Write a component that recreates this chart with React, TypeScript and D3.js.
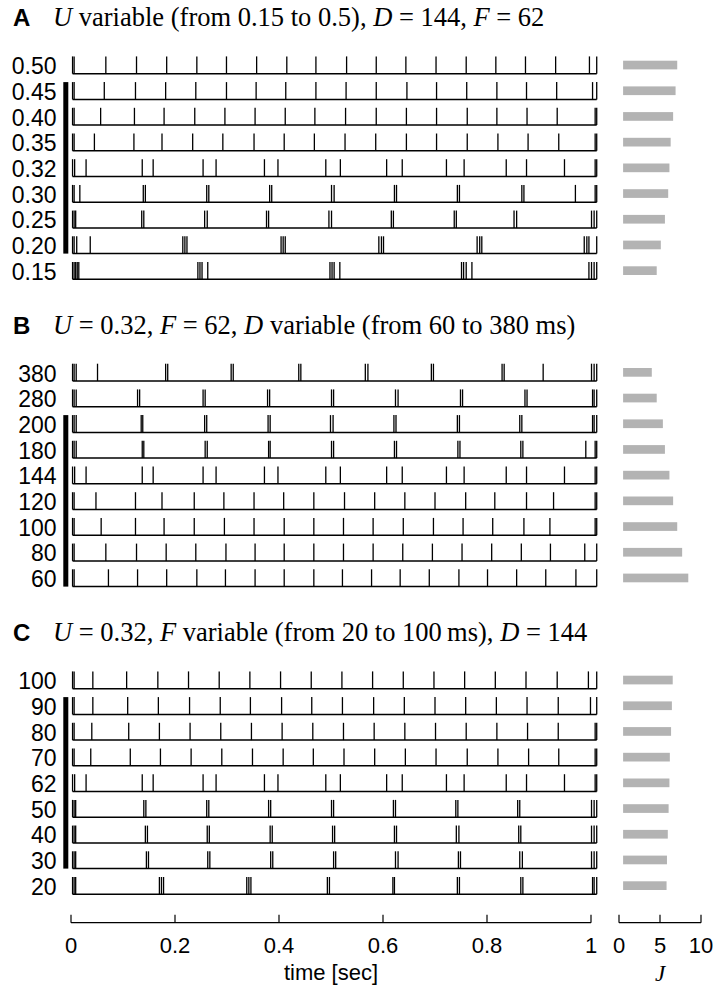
import React from 'react';
import * as d3 from 'd3';

// ---------- DATA ----------
const panelALabels = ['0.50', '0.45', '0.40', '0.35', '0.32', '0.30', '0.25', '0.20', '0.15'];
const panelBLabels = ['380', '280', '200', '180', '144', '120', '100', '80', '60'];
const panelCLabels = ['100', '90', '80', '70', '62', '50', '40', '30', '20'];

// spike times (sec)
const spikesRef = [0.003, 0.007, 0.029, 0.137, 0.158, 0.254, 0.279, 0.372, 0.398, 0.490, 0.518, 0.607, 0.637, 0.722, 0.756, 0.837, 0.876, 0.949, 1.008, 1.011];

const panelASpikes: number[][] = [
  [0.003, 0.006, 0.067, 0.126, 0.184, 0.242, 0.299, 0.357, 0.415, 0.471, 0.530, 0.587, 0.644, 0.702, 0.760, 0.817, 0.874, 0.932, 0.997, 1.011],
  [0.003, 0.006, 0.064, 0.124, 0.182, 0.240, 0.299, 0.356, 0.413, 0.471, 0.529, 0.587, 0.646, 0.703, 0.761, 0.819, 0.876, 0.934, 1.003, 1.011],
  [0.003, 0.006, 0.057, 0.122, 0.179, 0.238, 0.296, 0.354, 0.412, 0.469, 0.528, 0.587, 0.645, 0.703, 0.762, 0.819, 0.877, 0.935, 1.008, 1.011],
  [0.003, 0.006, 0.045, 0.121, 0.175, 0.234, 0.292, 0.352, 0.410, 0.468, 0.527, 0.586, 0.645, 0.703, 0.762, 0.821, 0.879, 0.938, 1.008, 1.011],
  spikesRef,
  [0.003, 0.006, 0.017, 0.139, 0.143, 0.261, 0.265, 0.382, 0.386, 0.501, 0.506, 0.622, 0.626, 0.743, 0.747, 0.867, 0.871, 0.970, 1.008, 1.011],
  [0.003, 0.006, 0.009, 0.136, 0.140, 0.257, 0.262, 0.376, 0.380, 0.496, 0.501, 0.616, 0.620, 0.737, 0.741, 0.852, 0.857, 1.001, 1.006, 1.011],
  [0.003, 0.006, 0.011, 0.037, 0.215, 0.219, 0.223, 0.404, 0.408, 0.412, 0.592, 0.597, 0.601, 0.781, 0.786, 0.790, 0.987, 0.992, 0.996, 1.011],
  [0.003, 0.006, 0.009, 0.012, 0.015, 0.244, 0.248, 0.252, 0.263, 0.498, 0.502, 0.506, 0.517, 0.751, 0.755, 0.760, 0.771, 0.996, 1.001, 1.006, 1.011],
];

const panelBSpikes: number[][] = [
  [0.003, 0.006, 0.010, 0.051, 0.182, 0.186, 0.308, 0.312, 0.438, 0.442, 0.566, 0.571, 0.693, 0.697, 0.829, 0.833, 0.908, 1.001, 1.006, 1.011],
  [0.003, 0.006, 0.010, 0.128, 0.132, 0.254, 0.258, 0.378, 0.382, 0.501, 0.505, 0.624, 0.629, 0.749, 0.753, 0.873, 0.877, 1.003, 1.006, 1.011],
  [0.003, 0.006, 0.010, 0.135, 0.138, 0.257, 0.261, 0.379, 0.383, 0.499, 0.504, 0.621, 0.625, 0.743, 0.747, 0.863, 0.867, 1.003, 1.006, 1.011],
  [0.003, 0.006, 0.010, 0.137, 0.140, 0.258, 0.262, 0.380, 0.383, 0.501, 0.505, 0.622, 0.626, 0.744, 0.748, 0.865, 0.869, 0.990, 1.008, 1.011],
  spikesRef,
  [0.003, 0.006, 0.048, 0.124, 0.175, 0.237, 0.294, 0.352, 0.409, 0.467, 0.526, 0.584, 0.642, 0.700, 0.759, 0.815, 0.876, 0.928, 1.008, 1.011],
  [0.003, 0.006, 0.058, 0.124, 0.179, 0.237, 0.295, 0.352, 0.410, 0.467, 0.524, 0.581, 0.639, 0.697, 0.754, 0.811, 0.871, 0.921, 1.008, 1.011],
  [0.003, 0.006, 0.067, 0.126, 0.183, 0.240, 0.298, 0.354, 0.410, 0.467, 0.524, 0.581, 0.638, 0.695, 0.752, 0.809, 0.866, 0.922, 0.988, 1.011],
  [0.003, 0.006, 0.072, 0.128, 0.184, 0.242, 0.297, 0.354, 0.410, 0.467, 0.522, 0.578, 0.633, 0.689, 0.746, 0.801, 0.857, 0.913, 0.971, 1.011],
];

const panelCSpikes: number[][] = [
  [0.003, 0.006, 0.042, 0.107, 0.167, 0.226, 0.285, 0.344, 0.403, 0.462, 0.521, 0.580, 0.639, 0.698, 0.757, 0.816, 0.875, 0.935, 0.995, 1.011],
  [0.003, 0.006, 0.042, 0.109, 0.168, 0.228, 0.287, 0.345, 0.405, 0.463, 0.522, 0.582, 0.641, 0.700, 0.759, 0.818, 0.877, 0.937, 0.999, 1.011],
  [0.003, 0.006, 0.040, 0.111, 0.170, 0.229, 0.288, 0.347, 0.406, 0.465, 0.524, 0.583, 0.642, 0.701, 0.760, 0.819, 0.878, 0.937, 1.008, 1.011],
  [0.003, 0.006, 0.038, 0.114, 0.172, 0.231, 0.290, 0.349, 0.408, 0.466, 0.525, 0.584, 0.643, 0.702, 0.762, 0.821, 0.880, 0.938, 1.008, 1.011],
  spikesRef,
  [0.003, 0.006, 0.009, 0.140, 0.144, 0.261, 0.265, 0.380, 0.384, 0.501, 0.505, 0.620, 0.624, 0.740, 0.744, 0.859, 0.863, 1.001, 1.006, 1.011],
  [0.003, 0.006, 0.009, 0.143, 0.147, 0.262, 0.266, 0.383, 0.387, 0.503, 0.507, 0.622, 0.626, 0.741, 0.746, 0.861, 0.865, 1.001, 1.006, 1.011],
  [0.003, 0.006, 0.009, 0.145, 0.149, 0.263, 0.267, 0.384, 0.388, 0.505, 0.509, 0.624, 0.629, 0.745, 0.749, 0.863, 0.868, 1.001, 1.006, 1.011],
  [0.003, 0.006, 0.009, 0.170, 0.174, 0.178, 0.338, 0.342, 0.346, 0.493, 0.497, 0.619, 0.622, 0.743, 0.747, 0.865, 0.869, 1.003, 1.006, 1.011],
];

const panelAJ = [7.1, 6.9, 6.6, 6.3, 6.15, 6.0, 5.6, 5.1, 4.6];
const panelBJ = [4.0, 4.6, 5.35, 5.6, 6.15, 6.6, 7.1, 7.7, 8.45];
const panelCJ = [6.55, 6.45, 6.35, 6.2, 6.15, 6.05, 5.95, 5.85, 5.8];

// index range of rows marked with the thick black bar
const panelAMarked = [1, 7];
const panelBMarked = [2, 8];
const panelCMarked = [1, 7];

type Seg = { t: string; i?: boolean };
const titleA: Seg[] = [{ t: 'U', i: true }, { t: ' variable (from 0.15 to 0.5), ' }, { t: 'D', i: true }, { t: ' = 144, ' }, { t: 'F', i: true }, { t: ' = 62' }];
const titleB: Seg[] = [{ t: 'U', i: true }, { t: ' = 0.32, ' }, { t: 'F', i: true }, { t: ' = 62, ' }, { t: 'D', i: true }, { t: ' variable (from 60 to 380 ms)' }];
const titleC: Seg[] = [{ t: 'U', i: true }, { t: ' = 0.32, ' }, { t: 'F', i: true }, { t: ' variable (from 20 to 100\u2009ms), ' }, { t: 'D', i: true }, { t: ' = 144' }];

const timeTicks = [0, 0.2, 0.4, 0.6, 0.8, 1];
const jTicks = [0, 5, 10];
const J_BAR_START = 0.5;

// ---------- LAYOUT ----------
const W = 715;
const H = 987;
const xT = d3.scaleLinear().domain([0, 1]).range([71, 591]);
const xJ = d3.scaleLinear().domain([0, 10]).range([619, 701]);
const ROW_STEP = 25.7;
const SPIKE_H = 17.3;
const BAR_H = 8.7;
const panelTops = [73.7, 381, 688.7];
const SANS = '"Liberation Sans", Arial, Helvetica, sans-serif';
const SERIF = '"Liberation Serif", "Times New Roman", Times, serif';
const LABEL_FS = 23;
const TICK_FS = 22;
const TITLE_FS = 26.5;
const fmt = d3.format('~g');

function Panel({ letter, title, labels, spikes, J, marked, y0 }: {
  letter: string; title: Seg[]; labels: string[]; spikes: number[][]; J: number[]; marked: number[]; y0: number;
}) {
  const yRow = d3.scaleLinear().domain([0, 1]).range([y0, y0 + ROW_STEP]);
  return (
    <g>
      <text x={13} y={y0 - 47.5} fontFamily={SANS} fontWeight="bold" fontSize={24}>{letter}</text>
      <text x={53} y={y0 - 47.5} fontFamily={SERIF} fontSize={TITLE_FS}>
        {title.map((s, k) => (
          <tspan key={k} fontStyle={s.i ? 'italic' : 'normal'}>{s.t}</tspan>
        ))}
      </text>
      <rect x={63.3} y={yRow(marked[0]) - SPIKE_H} width={5} height={yRow(marked[1]) - yRow(marked[0]) + SPIKE_H} fill="#000" />
      {labels.map((lab, r) => {
        const yb = yRow(r);
        const sp = spikes[r];
        return (
          <g key={r}>
            <text x={56.5} y={yb + 0.5} textAnchor="end" fontFamily={SANS} fontSize={LABEL_FS}>{lab}</text>
            <line x1={xT(sp[0])} x2={xT(sp[sp.length - 1])} y1={yb} y2={yb} stroke="#000" strokeWidth={1.5} />
            {sp.map((t, k) => (
              <line key={k} x1={xT(t)} x2={xT(t)} y1={yb} y2={yb - SPIKE_H} stroke="#000" strokeWidth={1.3} />
            ))}
            <rect x={xJ(J_BAR_START)} y={yb - SPIKE_H / 2 - BAR_H / 2} width={xJ(J[r]) - xJ(J_BAR_START)} height={BAR_H} fill="#b3b3b3" />
          </g>
        );
      })}
    </g>
  );
}

export default function App() {
  const axisY = 922.7;
  return (
    <svg width={W} height={H} style={{ display: 'block', position: 'absolute', left: 0, top: 0, background: '#fff' }}>
      <rect x={0} y={0} width={W} height={H} fill="#fff" />
      <Panel letter="A" title={titleA} labels={panelALabels} spikes={panelASpikes} J={panelAJ} marked={panelAMarked} y0={panelTops[0]} />
      <Panel letter="B" title={titleB} labels={panelBLabels} spikes={panelBSpikes} J={panelBJ} marked={panelBMarked} y0={panelTops[1]} />
      <Panel letter="C" title={titleC} labels={panelCLabels} spikes={panelCSpikes} J={panelCJ} marked={panelCMarked} y0={panelTops[2]} />
      {/* time axis */}
      <line x1={xT(0)} x2={xT(1)} y1={axisY} y2={axisY} stroke="#000" strokeWidth={1.2} />
      {timeTicks.map((t) => (
        <g key={t}>
          <line x1={xT(t)} x2={xT(t)} y1={axisY} y2={axisY - 8} stroke="#000" strokeWidth={1.2} />
          <text x={xT(t)} y={axisY + 30} textAnchor="middle" fontFamily={SANS} fontSize={TICK_FS}>{fmt(t)}</text>
        </g>
      ))}
      <text x={(xT(0) + xT(1)) / 2} y={axisY + 57} textAnchor="middle" fontFamily={SANS} fontSize={TICK_FS}>time [sec]</text>
      {/* J axis */}
      <line x1={xJ(0)} x2={xJ(10)} y1={axisY} y2={axisY} stroke="#000" strokeWidth={1.2} />
      {jTicks.map((t) => (
        <g key={t}>
          <line x1={xJ(t)} x2={xJ(t)} y1={axisY} y2={axisY - 8} stroke="#000" strokeWidth={1.2} />
          <text x={xJ(t)} y={axisY + 30} textAnchor="middle" fontFamily={SANS} fontSize={TICK_FS}>{fmt(t)}</text>
        </g>
      ))}
      <text x={xJ(5)} y={axisY + 58} textAnchor="middle" fontFamily={SERIF} fontStyle="italic" fontSize={23}>J</text>
    </svg>
  );
}
